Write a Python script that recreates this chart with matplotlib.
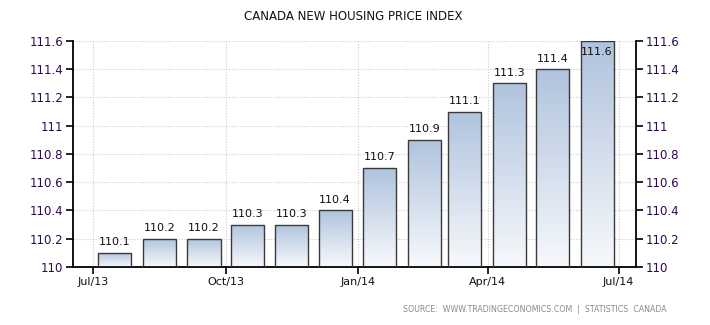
import matplotlib
matplotlib.use("Agg")
import matplotlib.pyplot as plt
import matplotlib.dates as mdates
import numpy as np
import datetime as dt

# data
months = ["2013-07", "2013-08", "2013-09", "2013-10", "2013-11", "2013-12",
          "2014-01", "2014-02", "2014-03", "2014-04", "2014-05", "2014-06"]
values = [110.1, 110.2, 110.2, 110.3, 110.3, 110.4,
          110.7, 110.9, 111.1, 111.3, 111.4, 111.6]
tick_dates = ["2013-07-01", "2013-10-01", "2014-01-01", "2014-04-01", "2014-07-01"]
tick_labels = ["Jul/13", "Oct/13", "Jan/14", "Apr/14", "Jul/14"]
y_ticks = [110, 110.2, 110.4, 110.6, 110.8, 111, 111.2, 111.4, 111.6]

title = "CANADA NEW HOUSING PRICE INDEX"
source = "SOURCE:  WWW.TRADINGECONOMICS.COM  |  STATISTICS  CANADA"

label_color = "#2b0a4f"
ymin, ymax = 110, 111.6

fig = plt.figure(figsize=(7.1, 3.25), dpi=100)
ax = fig.add_axes([73 / 710, 1 - 267 / 325, (636 - 73) / 710, (267 - 41) / 325])

centers = [mdates.date2num(dt.datetime.strptime(m + "-16", "%Y-%m-%d")) for m in months]
heights = [v - ymin for v in values]
bars = ax.bar(centers, heights, width=23, bottom=ymin, color="none",
              edgecolor="#3a3a3a", linewidth=1.0, zorder=3)

# vertical gradient inside each bar
grad = np.linspace(0, 1, 256).reshape(-1, 1)
cmap = matplotlib.colors.LinearSegmentedColormap.from_list("g", ["#f7f9fc", "#b0c3dd"])
for b in bars:
    x0, y0 = b.get_x(), b.get_y()
    w, h = b.get_width(), b.get_height()
    im = ax.imshow(grad, extent=[x0, x0 + w, y0, y0 + h], origin="lower",
                   cmap=cmap, aspect="auto", zorder=2)
    im.set_clip_path(b)

for c, v in zip(centers, values):
    if v >= ymax - 1e-9:
        ax.text(c, v - 0.04, f"{v:.1f}", ha="center", va="top", fontsize=8, color="#111111", zorder=4)
    else:
        ax.text(c, v + 0.04, f"{v:.1f}", ha="center", va="bottom", fontsize=8, color="#111111", zorder=4)

ax.set_xlim(mdates.date2num(dt.datetime(2013, 6, 17)), mdates.date2num(dt.datetime(2014, 7, 13)))
ax.set_ylim(ymin, ymax)
xt = [mdates.date2num(dt.datetime.strptime(d, "%Y-%m-%d")) for d in tick_dates]
ax.set_xticks(xt)
ax.set_xticklabels(tick_labels, fontsize=8, color="#111111")
ax.set_yticks(y_ticks)
ax.set_yticklabels([f"{t:g}" for t in y_ticks], fontsize=8.5, color=label_color)
ax.tick_params(axis="both", direction="out", length=5, width=1.2, color="black", pad=2)
ax.tick_params(axis="y", left=True, right=True, labelleft=True, labelright=True)

ax.grid(True, linestyle=(0, (1, 1.5)), color="#cccccc", linewidth=0.8, zorder=0)
ax.set_axisbelow(True)
ax.spines["top"].set_visible(False)
for s in ["left", "right", "bottom"]:
    ax.spines[s].set_linewidth(1.3)
    ax.spines[s].set_color("black")

fig.text(353 / 710, 1 - 17 / 325, title, ha="center", va="center", fontsize=8.5,
         color="#111111", fontweight="medium")
fig.text(667 / 710, 1 - 310 / 325, source, ha="right", va="center", fontsize=5.7, color="#8a8a8a")

fig.savefig("out.png", dpi=100)
